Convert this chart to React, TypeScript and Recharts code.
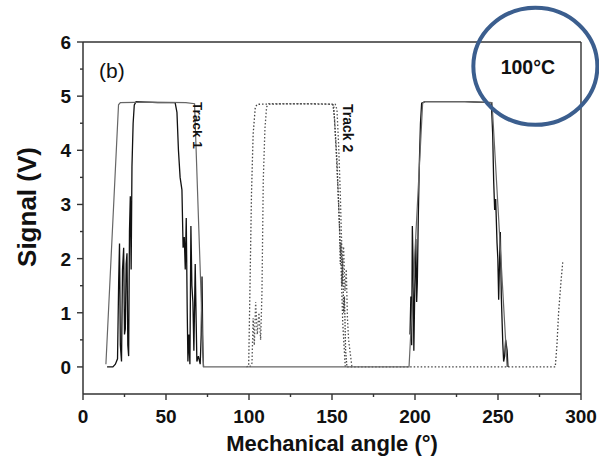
import React from 'react';
import { LineChart, Line, XAxis, YAxis, ReferenceLine, ReferenceDot, Label } from 'recharts';

// Track 1, run A (solid, smooth outer envelope)
const runAAngles = [13.8, 21.4, 22.5, 40, 62, 67.2, 72.6, 120, 160, 196.4, 204.6, 206, 230, 246.4, 255.5];
const runAValues = [0.05, 4.84, 4.88, 4.89, 4.88, 4.86, 0, 0, 0, 0, 4.87, 4.9, 4.9, 4.88, 0];

// Track 1, run B (solid, noisy)
const runBAngles = [14.5, 18, 19.5, 20.8, 21.5, 22, 22.5, 23.2, 23.8, 24.5, 25, 25.5, 26, 26.5, 27, 27.5, 28, 28.5, 29, 29.5, 30.2, 30.9, 32, 45, 55.5, 56.6, 57.5, 58.5, 59.6, 60.3, 61, 61.6, 62.2, 62.8, 63.2, 63.8, 64.4, 65, 65.6, 66.2, 66.8, 67.6, 68.2, 68.6, 69.5, 70.6, 71.2, 71.7, 72.2, 72.6, 74, 196.5, 197, 197.5, 198, 198.4, 198.9, 199.3, 199.9, 200.5, 201, 201.4, 202, 202.6, 203.3, 204, 206, 230, 246, 246.8, 247.4, 248, 248.6, 249.4, 249.9, 250.4, 250.9, 251.4, 252, 252.9, 253.4, 254, 254.6, 255.5, 256];
const runBValues = [0, 0, 0.05, 0.15, 1.6, 2.28, 0.4, 0.1, 1.8, 2.2, 0.6, 0.7, 1.9, 2.1, 0.4, 0.2, 2.5, 3.15, 1.8, 3.7, 4.5, 4.84, 4.9, 4.88, 4.88, 4.7, 4.0, 3.5, 3.27, 2.2, 2.4, 1.8, 2.75, 1.0, 0.1, 0.6, 0.05, 2.6, 1.5, 1.2, 0.3, 1.9, 0.8, 0.1, 0.2, 0.05, 0.6, 1.67, 0.3, 0, null, null, 0.6, 1.3, 0.4, 2.6, 1.8, 0.3, 1.5, 2.36, 1.2, 1.55, 2.8, 3.74, 4.5, 4.87, 4.9, 4.9, 4.88, 4.3, 3.43, 2.9, 3.1, 2.3, 2.0, 1.24, 1.9, 2.49, 1.3, 0.42, 0.1, 0.2, 0.5, 0.3, 0];

// Track 2, run D (dotted)
const runDAngles = [98.5, 99.8, 100.5, 101.5, 102.5, 103.8, 105, 130, 150, 151, 152.5, 154, 155.5, 156.5, 158, 170, 200, 240, 284.5, 285.5, 286.5, 288, 289];
const runDValues = [0, 0.02, 1.3, 3.2, 4.3, 4.8, 4.85, 4.86, 4.85, 4.84, 4.0, 3.0, 1.8, 0.8, 0, 0, 0, 0, 0, 0.4, 1.0, 1.6, 1.93];

// Track 2, run E (dotted)
const runEAngles = [100.5, 101.8, 102.5, 103.2, 104, 105, 106, 107, 107.8, 108.6, 109.6, 110.6, 112, 140, 152, 153, 154, 155, 155.6, 156.2, 157, 157.8, 158.6, 159.3, 160, 162];
const runEValues = [0, 0.07, 0.9, 0.4, 1.2, 0.6, 1.0, 0.5, 1.36, 3.45, 4.4, 4.8, 4.86, 4.86, 4.85, 4.75, 4.1, 3.2, 2.5, 2.0, 2.22, 1.4, 1.8, 0.9, 0.5, 0];

// Track 2, run F (dotted, noisy falling edge)
const runFAngles = [150.5, 151.5, 153, 154.5, 155, 155.5, 156, 156.5, 157, 157.5, 158.2, 159];
const runFValues = [4.85, 4.6, 3.8, 2.6, 1.9, 2.3, 1.5, 2.0, 1.0, 1.3, 0.3, 0];

const xTicks = [0, 25, 50, 75, 100, 125, 150, 175, 200, 225, 250, 275, 300];
const yTicks = [0, 0.5, 1, 1.5, 2, 2.5, 3, 3.5, 4, 4.5, 5, 5.5, 6];

const FONT = '"Liberation Sans", Arial, Helvetica, sans-serif';

const toData = (a: number[], v: (number | null)[]) => a.map((x, i) => ({ a: x, v: v[i] }));
const dataA = toData(runAAngles, runAValues);
const dataB = toData(runBAngles, runBValues);
const dataD = toData(runDAngles, runDValues);
const dataE = toData(runEAngles, runEValues);
const dataF = toData(runFAngles, runFValues);

const XTick = (props: any) => {
  const { x, y, payload } = props;
  const major = payload.value % 50 === 0;
  return (
    <g>
      <line x1={x} x2={x} y1={y} y2={y + (major ? 6 : 3)} stroke="#333" strokeWidth={1.4} />
      {major && (
        <text x={x} y={y + 29} textAnchor="middle" fontSize={19} fontWeight="bold" fontFamily={FONT} fill="#111">
          {payload.value}
        </text>
      )}
    </g>
  );
};

const YTick = (props: any) => {
  const { x, y, payload } = props;
  const major = Number.isInteger(payload.value);
  return (
    <g>
      <line x1={x - (major ? 6 : 3)} x2={x} y1={y} y2={y} stroke="#333" strokeWidth={1.4} />
      {major && (
        <text x={x - 12} y={y + 7} textAnchor="end" fontSize={19} fontWeight="bold" fontFamily={FONT} fill="#111">
          {payload.value}
        </text>
      )}
    </g>
  );
};

const YLabel = (props: any) => {
  const vb = props.viewBox || { x: 0, y: 42, width: 83, height: 352 };
  const cx = vb.x + 36;
  const cy = vb.y + 165;
  return (
    <text x={cx} y={cy} transform={`rotate(-90, ${cx}, ${cy})`} textAnchor="middle" fontSize={26} fontWeight="bold" fontFamily={FONT} fill="#111">
      Signal (V)
    </text>
  );
};

const textShape = (txt: string, size: number, bold: boolean, rotate = 0) => (p: any) => (
  <text
    x={p.cx}
    y={p.cy}
    textAnchor="middle"
    dominantBaseline="central"
    fontSize={size}
    fontWeight={bold ? 'bold' : 'normal'}
    fontFamily={FONT}
    fill="#111"
    transform={rotate ? `rotate(${rotate}, ${p.cx}, ${p.cy})` : undefined}
  >
    {txt}
  </text>
);

export default function App() {
  return (
    <div style={{ position: 'absolute', left: 0, top: 0, width: 599, height: 466, background: '#fff' }}>
      <LineChart width={599} height={466} margin={{ top: 42, right: 18, bottom: 0, left: 0 }}>
        <XAxis
          type="number"
          dataKey="a"
          domain={[0, 300]}
          ticks={xTicks}
          interval={0}
          tickSize={0}
          tickMargin={0}
          tickLine={false}
          tick={<XTick />}
          height={72}
          axisLine={{ stroke: '#333', strokeWidth: 1.5 }}
          allowDataOverflow
        >
          <Label value="Mechanical angle (°)" position="insideBottom" offset={15} fontSize={22} fontWeight="bold" fontFamily={FONT} fill="#111" />
        </XAxis>
        <YAxis
          type="number"
          domain={[-0.5, 6]}
          ticks={yTicks}
          interval={0}
          tickSize={0}
          tickMargin={0}
          tickLine={false}
          tick={<YTick />}
          width={83}
          axisLine={{ stroke: '#333', strokeWidth: 1.5 }}
          allowDataOverflow
          label={<YLabel />}
        />
        <ReferenceLine y={6} stroke="#333" strokeWidth={1.4} />
        <ReferenceLine x={300} stroke="#333" strokeWidth={1.4} />
        <Line data={dataD} dataKey="v" type="linear" stroke="#444" strokeWidth={1.3} strokeDasharray="1.5 2" dot={false} isAnimationActive={false} />
        <Line data={dataE} dataKey="v" type="linear" stroke="#555" strokeWidth={1.3} strokeDasharray="1.5 2" dot={false} isAnimationActive={false} />
        <Line data={dataF} dataKey="v" type="linear" stroke="#444" strokeWidth={1.3} strokeDasharray="1.5 1.5" dot={false} isAnimationActive={false} />
        <Line data={dataB} dataKey="v" type="linear" stroke="#111" strokeWidth={1.3} dot={false} isAnimationActive={false} />
        <Line data={dataA} dataKey="v" type="linear" stroke="#666" strokeWidth={1.2} dot={false} isAnimationActive={false} />
        <ReferenceDot x={17.35} y={5.47} r={1} ifOverflow="visible" shape={textShape('(b)', 21, false)} />
        <ReferenceDot x={68.9} y={4.46} r={1} ifOverflow="visible" shape={textShape('Track 1', 13.5, true, 90)} />
        <ReferenceDot x={159.5} y={4.41} r={1} ifOverflow="visible" shape={textShape('Track 2', 14, true, 90)} />
        <ReferenceDot x={268} y={5.53} r={1} ifOverflow="visible" shape={textShape('100°C', 19.5, true)} />
        <ReferenceDot
          x={272.5}
          y={5.55}
          r={60}
          ifOverflow="visible"
          shape={(p: any) => <ellipse cx={p.cx} cy={p.cy} rx={62} ry={58.5} fill="none" stroke="#3B5E8E" strokeWidth={4} />}
        />
      </LineChart>
    </div>
  );
}
